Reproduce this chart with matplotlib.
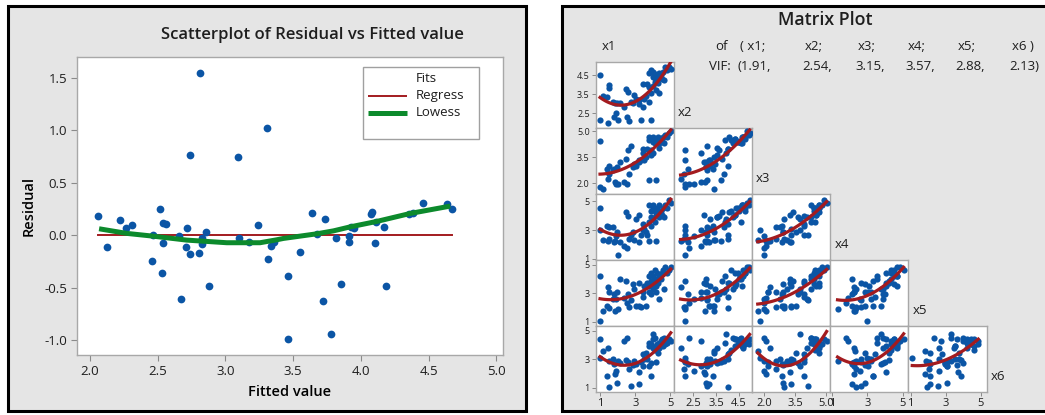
import matplotlib.pyplot as plt
import numpy as np
from matplotlib.lines import Line2D
from matplotlib.patches import Rectangle

plt.rcParams["font.family"] = ["Open Sans", "DejaVu Sans"]
plt.rcParams["text.color"] = "#1e1e1e"

W, H = 1045, 415

# ---- residual vs fitted ----
fitted = [2.057, 2.128, 2.222, 2.266, 2.308, 2.456, 2.463, 2.517, 2.542, 2.559,
          2.542, 2.532, 2.660, 2.675, 2.714, 2.707, 2.736, 2.736, 2.805, 2.813,
          2.830, 2.830, 2.855, 2.877, 3.094, 3.103, 3.172, 3.241, 3.305, 3.313,
          3.335, 3.360, 3.461, 3.461, 3.554, 3.640, 3.680, 3.724, 3.734, 3.781,
          3.818, 3.850, 3.911, 3.911, 3.926, 3.946, 4.074, 4.084, 4.108, 4.113,
          4.170, 4.185, 4.357, 4.382, 4.458, 4.635, 4.670]
residual = [0.181, -0.111, 0.143, 0.063, 0.092, -0.248, 0.0, 0.244, 0.114, 0.102,
            -0.079, -0.362, -0.006, -0.610, 0.070, -0.111, 0.765, -0.181, -0.175, 1.549,
            -0.032, -0.086, 0.025, -0.483, 0.743, -0.029, -0.070, 0.092, 1.016, -0.229,
            -0.102, -0.070, -0.390, -0.994, -0.159, 0.213, 0.013, -0.632, 0.152, -0.943,
            -0.029, -0.470, -0.006, -0.070, 0.079, 0.070, 0.197, 0.222, -0.079, 0.127,
            0.073, -0.483, 0.203, 0.213, 0.302, 0.292, 0.251]
lowess_x = [2.067, 2.271, 2.463, 2.714, 3.01, 3.256, 3.379, 3.429, 3.552, 3.675,
            3.798, 3.921, 4.118, 4.365, 4.66]
lowess_y = [0.06, 0.016, -0.01, -0.048, -0.073, -0.073, -0.045, -0.032, -0.01, 0.012,
            0.04, 0.078, 0.13, 0.206, 0.276]
legend_title = "Fits"
legend_labels = ["Regress", "Lowess"]

# ---- matrix plot variables ----
x1 = [0.98, 0.98, 1.17, 1.40, 1.44, 1.48, 1.48, 1.71, 1.78, 1.82, 1.90, 1.98, 2.01, 2.13,
      2.36, 2.45, 2.51, 2.59, 2.63, 2.74, 2.89, 2.93, 3.05, 3.20, 3.24, 3.35, 3.43, 3.43,
      3.51, 3.62, 3.70, 3.78, 3.78, 3.81, 3.89, 3.93, 3.93, 4.00, 4.04, 4.04, 4.12, 4.16,
      4.20, 4.20, 4.27, 4.31, 4.39, 4.39, 4.46, 4.54, 4.58, 4.66, 4.73, 4.85, 4.96, 5.04]
x2 = [4.54, 2.15, 3.41, 3.38, 1.97, 4.01, 3.85, 3.11, 2.29, 3.03, 2.54, 3.06, 2.15, 3.06,
      2.85, 3.76, 2.32, 3.64, 2.11, 3.11, 3.06, 3.46, 3.24, 2.99, 3.20, 2.15, 4.04, 2.85,
      3.24, 3.41, 4.04, 3.90, 3.11, 4.61, 3.55, 4.78, 2.15, 4.39, 4.68, 3.94, 4.15, 4.57,
      4.32, 3.73, 4.46, 4.08, 4.61, 3.55, 4.52, 4.32, 4.68, 4.25, 4.92, 4.78, 4.96, 4.85]
x3 = [4.45, 1.80, 1.67, 2.84, 2.25, 2.97, 2.54, 2.74, 2.84, 2.06, 1.96, 2.93, 1.96, 3.23,
      2.06, 3.42, 1.96, 3.91, 2.54, 4.14, 2.93, 3.09, 2.97, 3.23, 3.32, 3.32, 3.95, 3.75,
      3.32, 3.52, 3.95, 4.49, 2.19, 4.69, 3.62, 4.53, 3.91, 4.40, 4.69, 3.75, 4.49, 4.30,
      4.53, 2.19, 4.40, 4.69, 4.30, 4.06, 4.40, 4.53, 4.69, 4.30, 4.79, 4.69, 4.90, 5.04]
x4 = [4.51, 3.00, 2.30, 3.30, 2.26, 2.37, 3.19, 3.19, 2.14, 2.26, 2.60, 2.84, 1.30, 2.14,
      1.91, 4.23, 1.79, 4.00, 2.37, 2.65, 2.84, 2.33, 3.77, 4.05, 2.14, 2.65, 3.42, 3.02,
      3.07, 2.84, 2.65, 3.53, 2.23, 4.70, 3.88, 4.35, 3.30, 4.51, 4.70, 3.77, 4.35, 3.53,
      4.05, 2.23, 4.51, 4.23, 4.70, 3.88, 4.35, 4.05, 4.51, 3.88, 4.70, 4.51, 5.05, 4.85]
x5 = [4.21, 1.09, 1.79, 2.13, 3.47, 1.95, 3.10, 2.60, 2.94, 1.79, 2.60, 3.10, 1.90, 3.98,
      2.71, 3.87, 2.36, 2.94, 2.02, 2.55, 3.64, 3.29, 2.13, 3.71, 2.09, 2.02, 2.78, 3.06,
      3.52, 2.09, 3.75, 4.21, 3.06, 3.52, 2.94, 4.45, 3.87, 3.64, 4.21, 3.29, 4.63, 3.98,
      3.52, 3.06, 4.45, 3.75, 4.21, 2.60, 3.98, 4.45, 4.63, 3.29, 4.86, 4.45, 4.63, 4.86]
x6 = [4.44, 3.13, 3.60, 1.84, 3.78, 1.02, 2.89, 3.01, 2.66, 2.00, 2.19, 1.30, 2.85, 2.71,
      4.30, 2.94, 4.49, 2.78, 2.31, 1.12, 2.61, 2.85, 2.66, 2.08, 1.26, 2.78, 3.36, 2.54,
      3.01, 3.48, 3.01, 4.18, 2.54, 3.95, 2.71, 4.06, 1.84, 4.42, 3.83, 4.77, 3.64, 4.53,
      3.95, 2.78, 4.06, 3.48, 4.18, 3.83, 4.30, 4.42, 3.95, 4.53, 4.06, 4.18, 4.42, 4.30]
var_names = ["x1", "x2", "x3", "x4", "x5", "x6"]
vif = [1.91, 2.54, 3.15, 3.57, 2.88, 2.13]
var_ticks = [[1, 3, 5], [2.5, 3.5, 4.5], [2.0, 3.5, 5.0], [1, 3, 5], [1, 3, 5], [1, 3, 5]]
var_ticklabels = [["1", "3", "5"], ["2.5", "3.5", "4.5"], ["2.0", "3.5", "5.0"],
                  ["1", "3", "5"], ["1", "3", "5"], ["1", "3", "5"]]
# axis limits (row direction, column direction)
row_lims = [None, (1.73, 5.2), (1.38, 5.19), (0.93, 5.49), (0.72, 5.33), (0.7, 5.35)]
col_lims = [(0.75, 5.23), (1.69, 5.07), (1.4, 5.22), (0.89, 5.32), (0.87, 5.33)]

data = [np.array(v) for v in (x1, x2, x3, x4, x5, x6)]

BLUE = "#0b55a5"
RED = "#a31b1f"
GREEN = "#0c8a2c"
GRID_GRAY = "#a8a8a8"
BG = "#e5e5e5"


def box(x0, y0, x1_, y1_):
    return [x0 / W, 1 - y1_ / H, (x1_ - x0) / W, (y1_ - y0) / H]


fig = plt.figure(figsize=(W / 100, H / 100), dpi=100)

# panel backgrounds
for (px0, py0, px1, py1) in [(8, 6, 526, 411), (562, 6, 1052, 411)]:
    fig.add_artist(Rectangle((px0 / W, 1 - py1 / H), (px1 - px0) / W, (py1 - py0) / H,
                             transform=fig.transFigure, fc=BG, ec="black", lw=2.2,
                             zorder=-5))

# ---------------- left: residual plot ----------------
AX_L, AX_T, AX_R, AX_B = 77, 57, 503, 355
ax = fig.add_axes(box(AX_L, AX_T, AX_R, AX_B))
ax.scatter(fitted, residual, s=31, color=BLUE, zorder=3, linewidths=0)
ax.plot([min(fitted), max(fitted)], [0, 0], color=RED, lw=1.4, zorder=2)
ax.plot(lowess_x, lowess_y, color=GREEN, lw=3.6, zorder=4, solid_capstyle="butt")
ax.set_xlim(1.904, 5.05)
ax.set_ylim(-1.143, 1.697)
ax.set_xticks([2.0, 2.5, 3.0, 3.5, 4.0, 4.5, 5.0])
ax.set_yticks([-1.0, -0.5, 0.0, 0.5, 1.0, 1.5])
ax.xaxis.set_major_formatter(plt.FormatStrFormatter("%.1f"))
ax.yaxis.set_major_formatter(plt.FormatStrFormatter("%.1f"))
ax.tick_params(length=4, width=0.8, color="#8a8a8a", labelsize=9.5, labelcolor="#1e1e1e", pad=3)
for lab in ax.get_xticklabels() + ax.get_yticklabels():
    lab.set_fontweight("medium")
for sp in ax.spines.values():
    sp.set_color(GRID_GRAY)
    sp.set_linewidth(1.0)
ax.set_xlabel("Fitted value", fontsize=10.5, fontweight="semibold", labelpad=5)
ax.set_ylabel("Residual", fontsize=10.5, fontweight="semibold", labelpad=6)
fig.text(312 / W, 1 - 35 / H, "Scatterplot of Residual vs Fitted value", ha="center",
         va="center", fontsize=12, fontweight="semibold")


# legend box drawn by hand so the layout follows the original
def ax_frac(px, py):
    return (px - AX_L) / (AX_R - AX_L), 1 - (py - AX_T) / (AX_B - AX_T)


lx0, ly0 = ax_frac(363, 139)
lx1, ly1 = ax_frac(479, 67)
ax.add_patch(Rectangle((lx0, ly0), lx1 - lx0, ly1 - ly0, transform=ax.transAxes,
                       fc="white", ec="#a0a0a0", lw=1.0, zorder=5))
tx, ty = ax_frac(416, 78)
ax.text(tx, ty, legend_title, transform=ax.transAxes, ha="left", va="center",
        fontsize=9.5, zorder=6)
for k, (lab, col, lw) in enumerate(zip(legend_labels, [RED, GREEN], [1.4, 3.6])):
    hx0, hy = ax_frac(368, 96 + 17 * k)
    hx1, _ = ax_frac(407, 96 + 17 * k)
    ax.add_line(Line2D([hx0, hx1], [hy, hy], transform=ax.transAxes, color=col, lw=lw,
                       zorder=6, solid_capstyle="butt"))
    ax.text(tx, hy, lab, transform=ax.transAxes, ha="left", va="center", fontsize=9.5,
            zorder=6)

# ---------------- right: matrix plot ----------------
col_x = [596 + 78.1 * c for c in range(6)]
row_y = [62 + 66 * r for r in range(6)]

fig.text(825 / W, 1 - 20 / H, "Matrix Plot", ha="center", va="center",
         fontsize=12.8, fontweight="semibold")
fig.text(602 / W, 1 - 47 / H, var_names[0], ha="left", va="center", fontsize=9.5)

of_x = [740, 805, 858, 908, 958, 1012]
fig.text(715 / W, 1 - 47 / H, "of", ha="left", va="center", fontsize=9.5)
fig.text(709 / W, 1 - 67 / H, "VIF:", ha="left", va="center", fontsize=9.5)
for k, name in enumerate(var_names):
    head = "( " if k == 0 else ""
    tail = " )" if k == len(var_names) - 1 else ";"
    fig.text(of_x[k] / W, 1 - 47 / H, head + name + tail, ha="left", va="center", fontsize=9.5)
    v_head = "(" if k == 0 else ""
    v_tail = ")" if k == len(vif) - 1 else ","
    vx = 737 if k == 0 else of_x[k] - 3
    fig.text(vx / W, 1 - 67 / H, f"{v_head}{vif[k]:.2f}{v_tail}", ha="left", va="center",
             fontsize=9.5)

for r in range(1, 6):
    yv = data[r]
    for c in range(r):
        xv = data[c]
        pax = fig.add_axes(box(col_x[c], row_y[r - 1], col_x[c + 1], row_y[r]))
        pax.scatter(xv, yv, s=20, color=BLUE, linewidths=0, zorder=3)
        coef = np.polyfit(xv, yv, 2)
        xs = np.linspace(xv.min(), xv.max(), 60)
        pax.plot(xs, np.polyval(coef, xs), color=RED, lw=2.3, zorder=4)
        pax.set_xlim(*col_lims[c])
        pax.set_ylim(*row_lims[r])
        for sp in pax.spines.values():
            sp.set_color(GRID_GRAY)
            sp.set_linewidth(1.0)
        pax.tick_params(length=3, width=0.7, color="#8a8a8a", pad=1.5, labelcolor="#1e1e1e")
        if c == 0:
            pax.set_yticks(var_ticks[r])
            pax.set_yticklabels(var_ticklabels[r], fontsize=6.5)
        else:
            pax.set_yticks([])
        if r == 5:
            pax.set_xticks(var_ticks[c])
            pax.set_xticklabels(var_ticklabels[c], fontsize=8)
        else:
            pax.set_xticks([])
    fig.text((col_x[r] + 4) / W, 1 - (row_y[r] - 16) / H, var_names[r], ha="left",
             va="center", fontsize=9.5)

fig.savefig("out.png", dpi=100)
